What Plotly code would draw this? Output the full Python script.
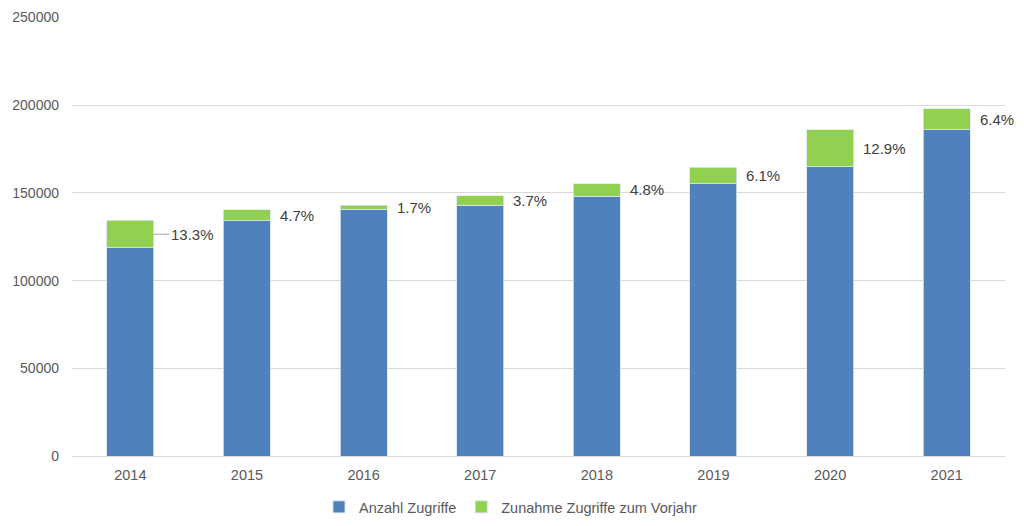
import plotly.graph_objects as go

years = ["2014", "2015", "2016", "2017", "2018", "2019", "2020", "2021"]
base_values = [118600, 134000, 140600, 143000, 148200, 155200, 164800, 186000]
increase_values = [15700, 6300, 2400, 5300, 7100, 9500, 21200, 11900]
pct_labels = ["13.3%", "4.7%", "1.7%", "3.7%", "4.8%", "6.1%", "12.9%", "6.4%"]

BLUE = "#4F81BD"
GREEN = "#92D050"
TXT = "#595959"
FONT = "Liberation Sans, Arial, sans-serif"

fig = go.Figure()
fig.add_trace(go.Bar(
    x=years, y=base_values, name="Anzahl Zugriffe",
    marker=dict(color=BLUE, line=dict(color="#dce6f2", width=0.8)),
))
fig.add_trace(go.Bar(
    x=years, y=increase_values, name="Zunahme Zugriffe zum Vorjahr",
    marker=dict(color=GREEN, line=dict(color="#dce6f2", width=0.8)),
))

for i, (b, inc, lab) in enumerate(zip(base_values, increase_values, pct_labels)):
    mid = b + inc / 2
    if i == 0:
        fig.add_annotation(
            x=i, y=mid, text=lab, showarrow=True, arrowhead=0, arrowwidth=1,
            arrowcolor="#a6a6a6", ax=16, ay=0, xanchor="left", xshift=23,
            standoff=0, font=dict(family=FONT, size=15, color="#404040"),
        )
    else:
        fig.add_annotation(
            x=i, y=mid, text=lab, showarrow=False, xanchor="left", xshift=31,
            font=dict(family=FONT, size=15, color="#404040"),
        )

fig.update_layout(
    barmode="stack",
    bargap=0.597,
    width=1016, height=518,
    margin=dict(l=64, r=19, t=9, b=70, autoexpand=False),
    plot_bgcolor="white", paper_bgcolor="white",
    font=dict(family=FONT, size=14, color=TXT),
    legend=dict(orientation="h", x=0.4705, xanchor="center", y=-0.116, yanchor="middle",
                font=dict(family=FONT, size=14.5, color=TXT), traceorder="normal",
                itemwidth=30),
    showlegend=True,
)
fig.update_yaxes(range=[0, 250300], tickvals=[0, 50000, 100000, 150000, 200000, 250000],
                 tickformat="d", showgrid=True,
                 gridcolor="#d9d9d9", gridwidth=1, zeroline=False, showline=False,
                 ticklabelstandoff=12, tickfont=dict(size=14, color=TXT))
fig.update_xaxes(type="category", range=[-0.5, 7.5], showline=True, linecolor="#d9d9d9",
                 linewidth=1, showgrid=False, ticklabelstandoff=6,
                 tickfont=dict(size=14.5, color=TXT))

fig.write_html("out.html")
